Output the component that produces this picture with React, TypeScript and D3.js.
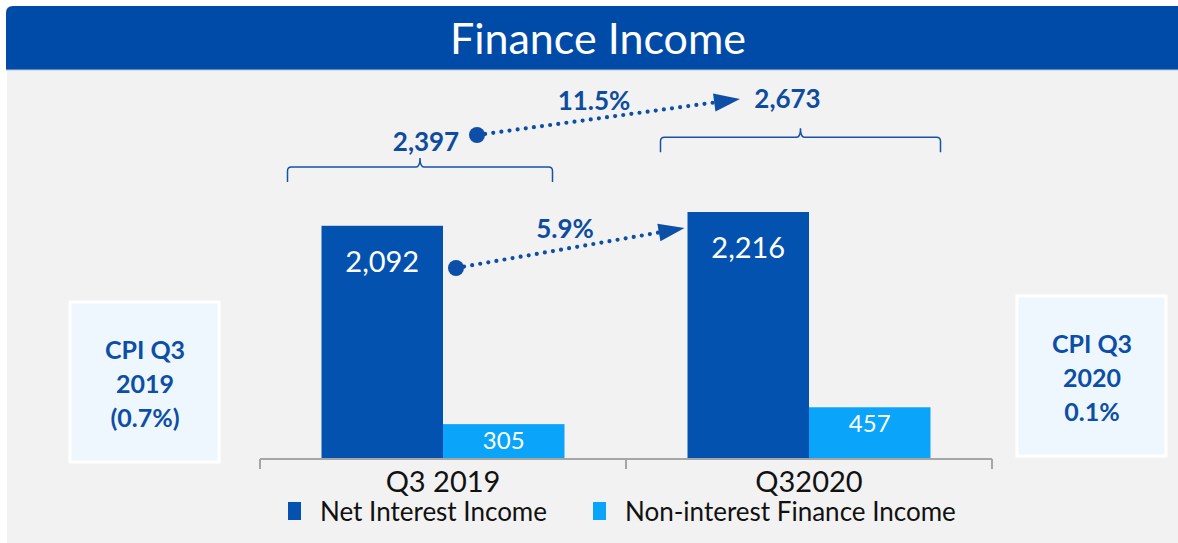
import { useEffect, useRef } from "react"
import * as d3 from "d3"

const CATEGORIES = ["Q3 2019", "Q32020"]
const SERIES = ["Net Interest Income", "Non-interest Finance Income"]
const NET_INTEREST = [2092, 2216]
const NON_INTEREST = [305, 457]
const TOTALS = [2397, 2673]
const GROWTH = ["5.9%", "11.5%"]
const CPI_LINES = [["CPI Q3", "2019", "(0.7%)"], ["CPI Q3", "2020", "0.1%"]]

const W = 1178
const H = 543
const DARK = "#0452B0"
const LIGHT = "#0AA4FA"
const NAVY = "#0E4C9E"
const FONT = "Lato, 'Open Sans', sans-serif"

export default function App() {
    const svgRef = useRef<SVGSVGElement>(null)

    useEffect(() => {
        const svg = d3.select(svgRef.current)
        svg.selectAll("*").remove()

        // background + header
        svg.append("rect").attr("x", 0).attr("y", 0).attr("width", W).attr("height", H).attr("fill", "#ffffff")
        svg.append("rect").attr("x", 7).attr("y", 70).attr("width", W - 7).attr("height", H - 70).attr("fill", "#f2f2f2")
        svg.append("path")
            .attr("d", `M6,70 L6,13 Q6,6 13,6 L${W},6 L${W},70 Z`)
            .attr("fill", "#004aa8")
        svg.append("line").attr("x1", 6).attr("x2", W).attr("y1", 70).attr("y2", 70)
            .attr("stroke", "#b8c8e0").attr("stroke-width", 1)
        svg.append("text")
            .text("Finance Income")
            .attr("x", 598).attr("y", 54)
            .attr("text-anchor", "middle")
            .attr("fill", "white")
            .attr("font-family", FONT)
            .attr("font-size", 43)

        const x = d3.scaleBand().domain(CATEGORIES).range([260, 992]).paddingInner(0).paddingOuter(0)
        const inner = d3.scaleBand().domain(SERIES).range([61.5, x.bandwidth() - 61.5])
        const y = d3.scaleLinear().domain([0, 2500]).range([458, 458 - 277.5])

        // axis
        const axis = svg.append("g")
        axis.append("line").attr("x1", 260).attr("x2", 992).attr("y1", 459).attr("y2", 459)
            .attr("stroke", "#a6a6a6").attr("stroke-width", 2)
        const ticks = [x(CATEGORIES[0])!, x(CATEGORIES[1])!, x(CATEGORIES[1])! + x.bandwidth()]
        ticks.forEach(t => {
            axis.append("line").attr("x1", t).attr("x2", t).attr("y1", 459).attr("y2", 469)
                .attr("stroke", "#a6a6a6").attr("stroke-width", 2)
        })

        // bars
        const values = [NET_INTEREST, NON_INTEREST]
        const colors = [DARK, LIGHT]
        CATEGORIES.forEach((c, ci) => {
            SERIES.forEach((s, si) => {
                const v = values[si][ci]
                const bx = x(c)! + inner(s)!
                svg.append("rect")
                    .attr("x", bx).attr("y", y(v))
                    .attr("width", inner.bandwidth()).attr("height", y(0) - y(v))
                    .attr("fill", colors[si])
                svg.append("text")
                    .text(d3.format(",")(v))
                    .attr("x", bx + inner.bandwidth() / 2)
                    .attr("y", si === 0 ? y(v) + 46 : y(v) + 25)
                    .attr("text-anchor", "middle")
                    .attr("fill", "white")
                    .attr("font-family", FONT)
                    .attr("font-size", si === 0 ? 29 : 24)
            })
            svg.append("text")
                .text(c)
                .attr("x", x(c)! + x.bandwidth() / 2)
                .attr("y", 492)
                .attr("text-anchor", "middle")
                .attr("fill", "#111")
                .attr("font-family", FONT)
                .attr("font-size", 29)
        })

        // totals brackets
        const bracketPad = [[34, 12], [27, -10]]
        const labelShift = [[6, -16], [-13, -29]]
        CATEGORIES.forEach((c, ci) => {
            const x0 = x(c)! + inner(SERIES[0])! - bracketPad[ci][0]
            const x1 = x(c)! + inner(SERIES[1])! + inner.bandwidth() - bracketPad[ci][1]
            const by = y(TOTALS[ci]) - 24 + (ci === 0 ? -1 : 0)
            const mid = (x0 + x1) / 2
            const r = 4
            svg.append("path")
                .attr("d", `M${x0},${by + 15} L${x0},${by + r} Q${x0},${by} ${x0 + r},${by} L${mid - r},${by} Q${mid},${by} ${mid},${by - r - 5}
                    M${mid},${by - r - 5} Q${mid},${by} ${mid + r},${by} L${x1 - r},${by} Q${x1},${by} ${x1},${by + r} L${x1},${by + 15}`)
                .attr("fill", "none")
                .attr("stroke", "#1552a8")
                .attr("stroke-width", 1.5)
            svg.append("text")
                .text(d3.format(",")(TOTALS[ci]))
                .attr("x", mid + labelShift[ci][0])
                .attr("y", by + labelShift[ci][1])
                .attr("text-anchor", "middle")
                .attr("fill", NAVY)
                .attr("font-family", FONT)
                .attr("font-weight", "bold")
                .attr("font-size", 26)
        })

        // growth arrows
        const arrow = (sx: number, sy: number, ex: number, ey: number, label: string, lx: number, ly: number) => {
            const ang = Math.atan2(ey - sy, ex - sx)
            const hl = 26, hw = 9
            const bx = ex - hl * Math.cos(ang), byy = ey - hl * Math.sin(ang)
            svg.append("line")
                .attr("x1", sx).attr("y1", sy).attr("x2", bx).attr("y2", byy)
                .attr("stroke", "#0d4ea6").attr("stroke-width", 4.2)
                .attr("stroke-linecap", "round").attr("stroke-dasharray", "0 8.2")
            svg.append("circle").attr("cx", sx).attr("cy", sy).attr("r", 8).attr("fill", "#0d4ea6")
            const px = -Math.sin(ang), py = Math.cos(ang)
            svg.append("polygon")
                .attr("points", `${ex},${ey} ${bx + px * hw},${byy + py * hw} ${bx - px * hw},${byy - py * hw}`)
                .attr("fill", "#0d4ea6")
            svg.append("text")
                .text(label)
                .attr("x", lx).attr("y", ly)
                .attr("text-anchor", "middle")
                .attr("fill", NAVY)
                .attr("font-family", FONT)
                .attr("font-weight", "bold")
                .attr("font-size", 26)
        }
        const netEnd = x(CATEGORIES[1])! + inner(SERIES[0])!
        arrow(456, 268, netEnd - 3, y(NET_INTEREST[1]) + 16, GROWTH[0], 565, 238)
        arrow(477, 135, 740, 99, GROWTH[1], 594, 110)

        // CPI boxes
        const boxes = [{ x: 70, y: 302 }, { x: 1017, y: 296 }]
        boxes.forEach((b, i) => {
            svg.append("rect")
                .attr("x", b.x).attr("y", b.y).attr("width", 149).attr("height", 160)
                .attr("fill", "#eff7fe").attr("stroke", "white").attr("stroke-width", 3)
            CPI_LINES[i].forEach((t, li) => {
                svg.append("text")
                    .text(t)
                    .attr("x", b.x + 75).attr("y", b.y + 57 + li * 34)
                    .attr("text-anchor", "middle")
                    .attr("fill", "#0d4ea6")
                    .attr("font-family", FONT)
                    .attr("font-weight", "bold")
                    .attr("font-size", 25)
            })
        })

        // legend
        const legendX = [288, 593]
        const legendTextX = [320, 625]
        SERIES.forEach((s, i) => {
            svg.append("rect").attr("x", legendX[i]).attr("y", 502).attr("width", 13).attr("height", 18).attr("fill", colors[i])
            svg.append("text")
                .text(s)
                .attr("x", legendTextX[i]).attr("y", 521)
                .attr("fill", "#111")
                .attr("font-family", FONT)
                .attr("font-size", 26)
        })
    }, [])

    return (
        <div style={{ position: "absolute", left: 0, top: 0 }}>
            <svg ref={svgRef} width={W} height={H} style={{ display: "block" }} />
        </div>
    )
}
